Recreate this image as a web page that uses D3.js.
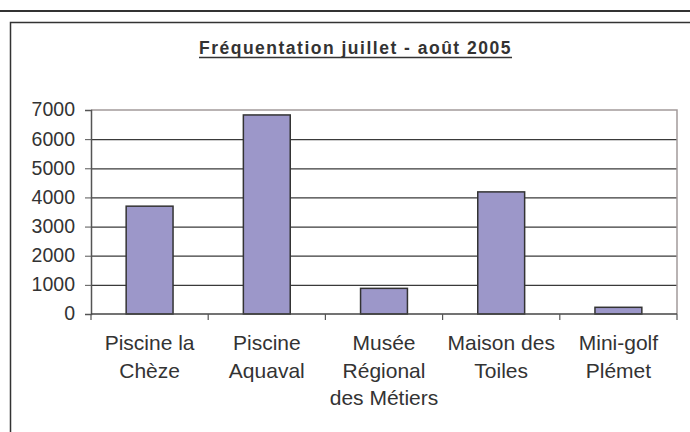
<!DOCTYPE html>
<html>
<head>
<meta charset="utf-8">
<script src="https://cdn.jsdelivr.net/npm/d3@7"></script>
<style>
  body { margin: 0; background: #fff; }
  svg text { font-family: "Liberation Sans", Arial, sans-serif; fill: #333; }
</style>
</head>
<body>
<svg id="chart" width="690" height="432"></svg>
<script>
// data
var sites = [["Piscine la", "Chèze"], ["Piscine", "Aquaval"], ["Musée", "Régional", "des Métiers"], ["Maison des", "Toiles"], ["Mini-golf", "Plémet"]];
var visits = [3700, 6830, 880, 4190, 230];
var yTicks = [0, 1000, 2000, 3000, 4000, 5000, 6000, 7000];
var title = "Fréquentation juillet - août 2005";

var svg = d3.select("#chart");
var pLeft = 91, pRight = 677, pTop = 110, pBottom = 314;

// outer frame bits
svg.append("line").attr("x1", 0).attr("x2", 690).attr("y1", 11).attr("y2", 11)
  .attr("stroke", "#333").attr("stroke-width", 2);
svg.append("rect").attr("x", 10.5).attr("y", 22.5).attr("width", 700).attr("height", 420)
  .attr("fill", "none").attr("stroke", "#333").attr("stroke-width", 1.5);

var t = svg.append("text").attr("x", 355.5).attr("y", 54)
  .attr("text-anchor", "middle").style("font-size", "17.5px").style("font-weight", "bold")
  .style("letter-spacing", "1.5px").text(title);
var tw = t.node().getComputedTextLength();
svg.append("line").attr("x1", 355.5 - tw / 2).attr("x2", 355.5 + tw / 2)
  .attr("y1", 57.5).attr("y2", 57.5).attr("stroke", "#333").attr("stroke-width", 1.5);

var x = d3.scaleBand().domain(d3.range(sites.length)).range([pLeft, pRight]).paddingInner(0.6).paddingOuter(0.3);
var y = d3.scaleLinear().domain([0, 7000]).range([pBottom, pTop]);

// gridlines
var grid = svg.append("g").attr("transform", "translate(" + pLeft + ",0)")
  .call(d3.axisLeft(y).tickValues(yTicks.slice(1, 7)).tickSize(-(pRight - pLeft)).tickFormat(""));
grid.select(".domain").remove();
grid.selectAll("line").attr("stroke", "#3a3a3a").attr("stroke-width", 1.2);

// plot border top/right
svg.append("path").attr("d", "M" + pLeft + "," + y(7000) + "H" + pRight + "V" + pBottom)
  .attr("fill", "none").attr("stroke", "#a39a9a").attr("stroke-width", 1.5);

svg.selectAll("rect.bar").data(visits).enter().append("rect").attr("class", "bar")
  .attr("x", function (d, i) { return x(i); })
  .attr("width", x.bandwidth())
  .attr("y", function (d) { return y(d); })
  .attr("height", function (d) { return pBottom - y(d); })
  .attr("fill", "#9c97c9").attr("stroke", "#333").attr("stroke-width", 1.5);

// y axis
var ya = svg.append("g").attr("transform", "translate(" + pLeft + ",0)")
  .call(d3.axisLeft(y).tickValues(yTicks).tickSize(6).tickPadding(10).tickFormat(d3.format("d")));
ya.select(".domain").attr("stroke", "#555").attr("stroke-width", 1.5);
ya.selectAll(".tick line").attr("stroke", "#555");
ya.selectAll("text").attr("font-family", null).attr("font-size", null)
  .style("font-size", "19.5px").style("fill", "#333").attr("dy", "0.3em");

// x axis
var edge = d3.scaleLinear().domain([0, sites.length]).range([pLeft, pRight]);
svg.append("line").attr("x1", pLeft).attr("x2", pRight).attr("y1", pBottom).attr("y2", pBottom)
  .attr("stroke", "#444").attr("stroke-width", 1.5);
svg.selectAll("line.xt").data(d3.range(sites.length + 1)).enter().append("line").attr("class", "xt")
  .attr("x1", function (d) { return edge(d); }).attr("x2", function (d) { return edge(d); })
  .attr("y1", pBottom).attr("y2", pBottom + 6).attr("stroke", "#555").attr("stroke-width", 1.2);

var labels = svg.selectAll("text.cat").data(sites).enter().append("text").attr("class", "cat")
  .attr("text-anchor", "middle").style("font-size", "21px")
  .attr("transform", function (d, i) { return "translate(" + (x(i) + x.bandwidth() / 2) + ",350)"; });
labels.selectAll("tspan").data(function (d) { return d; }).enter().append("tspan")
  .attr("x", 0).attr("y", function (d, j) { return j * 27.5; }).text(function (d) { return d; });
</script>
</body>
</html>
